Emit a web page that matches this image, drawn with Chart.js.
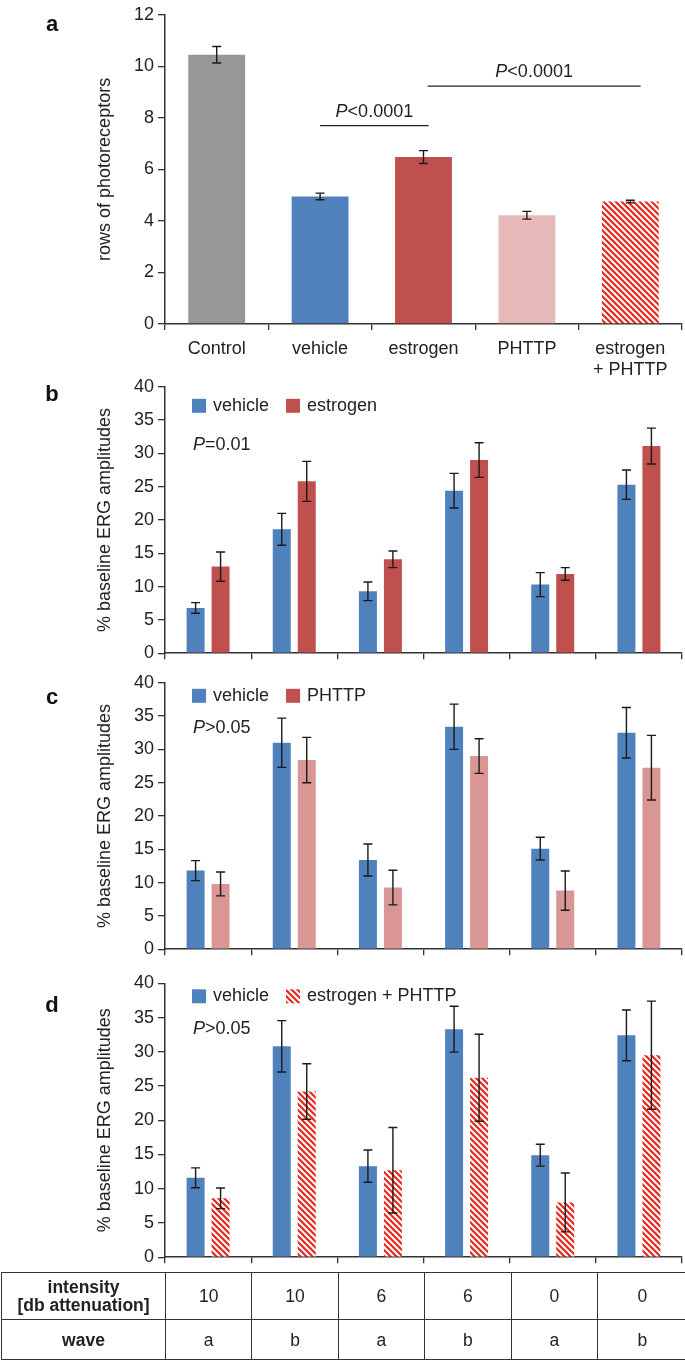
<!DOCTYPE html>
<html>
<head>
<meta charset="utf-8">
<script src="https://cdn.jsdelivr.net/npm/chart.js@4.4.1/dist/chart.umd.min.js"></script>
<style>
    body { margin: 0; background: #fff; width: 685px; height: 1361px; position: relative; overflow: hidden;
           font-family: "Liberation Sans", Arial, sans-serif; color: #222; }
    canvas { position: absolute; left: 0; }
    #params { position: absolute; left: 1px; top: 1272px; width: 686px; border-collapse: collapse; table-layout: fixed; }
    #params td { border: 1.5px solid #333; text-align: center; font-size: 17.5px; line-height: 18px; padding: 0; }
    #params td.head { font-weight: bold; }
</style>
</head>
<body>
<canvas id="chart-a" width="685" height="380" style="top:0px"></canvas>
<canvas id="chart-b" width="685" height="296" style="top:372px"></canvas>
<canvas id="chart-c" width="685" height="296" style="top:668px"></canvas>
<canvas id="chart-d" width="685" height="304" style="top:968px"></canvas>
<table id="params"></table>
<script>
// panel a
const groupsA = ['Control', 'vehicle', 'estrogen', 'PHTTP', ['estrogen', '+ PHTTP']];
const rowsA = [10.45, 4.95, 6.48, 4.22, 4.75];
const rowsErrA = [0.32, 0.13, 0.25, 0.15, 0.05];

// ERG panels b-d (six intensity/wave conditions)
const conditions = ['10 a', '10 b', '6 a', '6 b', '0 a', '0 b'];
const vehicleB = [6.8, 18.6, 9.3, 24.4, 10.3, 25.3];
const vehicleErrB = [0.8, 2.4, 1.4, 2.6, 1.8, 2.2];
const estrogenB = [13.0, 25.8, 14.1, 29.0, 11.9, 31.1];
const estrogenErrB = [2.2, 3.0, 1.25, 2.6, 0.95, 2.7];

const vehicleC = [11.8, 31.0, 13.4, 33.4, 15.1, 32.5];
const vehicleErrC = [1.5, 3.7, 2.4, 3.4, 1.7, 3.8];
const phttpC = [9.8, 28.4, 9.25, 29.0, 8.8, 27.25];
const phttpErrC = [1.8, 3.4, 2.6, 2.6, 2.95, 4.85];

const vehicleD = [11.6, 30.8, 13.3, 33.3, 14.9, 32.4];
const vehicleErrD = [1.45, 3.75, 2.35, 3.35, 1.6, 3.7];
const comboD = [8.6, 24.2, 12.7, 26.2, 8.0, 29.5];
const comboErrD = [1.5, 4.05, 6.25, 6.35, 4.3, 7.9];

const intensity = ['10', '10', '6', '6', '0', '0'];
const wave = ['a', 'b', 'a', 'b', 'a', 'b'];

const GREY = '#979797';
const BLUE = '#4f81bd';
const RED = '#c0504d';
const PINK_A = '#e6b9b8';
const PINK_C = '#d99694';

Chart.defaults.font.family = '"Liberation Sans", Arial, sans-serif';
Chart.defaults.color = '#222';

function hatch() {
    const c = document.createElement('canvas');
    c.width = 6;
    c.height = 6;
    const g = c.getContext('2d');
    g.fillStyle = '#fff';
    g.fillRect(0, 0, 6, 6);
    g.strokeStyle = '#e8261c';
    g.lineWidth = 2.2;
    g.beginPath();
    g.moveTo(-1, -1); g.lineTo(7, 7);
    g.moveTo(-1, 5); g.lineTo(1, 7);
    g.moveTo(5, -1); g.lineTo(7, 1);
    g.stroke();
    return g.createPattern(c, 'repeat');
}
const HATCH = hatch();

function drawP(ctx, x, y, rest, align) {
    ctx.font = 'italic 18px "Liberation Sans", Arial, sans-serif';
    const wp = ctx.measureText('P').width;
    ctx.font = '18px "Liberation Sans", Arial, sans-serif';
    const wr = ctx.measureText(rest).width;
    let x0 = align === 'center' ? x - (wp + wr) / 2 : x;
    ctx.textAlign = 'left';
    ctx.textBaseline = 'middle';
    ctx.fillStyle = '#222';
    ctx.font = 'italic 18px "Liberation Sans", Arial, sans-serif';
    ctx.fillText('P', x0, y);
    ctx.font = '18px "Liberation Sans", Arial, sans-serif';
    ctx.fillText(rest, x0 + wp, y);
}

const extras = {
    id: 'extras',
    afterDatasetsDraw(chart, args, opts) {
        const ctx = chart.ctx;
        const xs = chart.scales.x;
        const ys = chart.scales.y;
        const top = chart.chartArea.top;
        ctx.save();

        // error bars
        chart.data.datasets.forEach((ds, i) => {
            const meta = chart.getDatasetMeta(i);
            meta.data.forEach((bar, j) => {
                const v = ds.data[j];
                const e = ds.errors[j];
                const y1 = ys.getPixelForValue(v + e);
                const y2 = ys.getPixelForValue(v - e);
                ctx.strokeStyle = '#1a1a1a';
                ctx.lineWidth = 1.4;
                ctx.beginPath();
                ctx.moveTo(bar.x, y1); ctx.lineTo(bar.x, y2);
                ctx.moveTo(bar.x - opts.cap, y1); ctx.lineTo(bar.x + opts.cap, y1);
                ctx.moveTo(bar.x - opts.cap, y2); ctx.lineTo(bar.x + opts.cap, y2);
                ctx.stroke();
            });
        });

        // panel letter
        ctx.fillStyle = '#111';
        ctx.font = 'bold 22px "Liberation Sans", Arial, sans-serif';
        ctx.textAlign = 'center';
        ctx.textBaseline = 'middle';
        ctx.fillText(opts.letter, 52, opts.letterY);

        // significance bars
        (opts.sigs || []).forEach((s) => {
            const x1 = xs.getPixelForValue(s.from);
            const x2 = xs.getPixelForValue(s.to);
            const yy = ys.getPixelForValue(s.at);
            ctx.strokeStyle = '#222';
            ctx.lineWidth = 1.3;
            ctx.beginPath();
            ctx.moveTo(x1, yy); ctx.lineTo(x2, yy);
            ctx.stroke();
            drawP(ctx, (x1 + x2) / 2, yy - 14, s.text, 'center');
        });

        // legend
        if (opts.legend) {
            let lx = 192;
            const ly = top + opts.legendDy;
            opts.legend.forEach((item) => {
                ctx.fillStyle = item.color;
                ctx.fillRect(lx, ly - 7, 14, 14);
                lx += 21;
                ctx.fillStyle = '#222';
                ctx.font = '18px "Liberation Sans", Arial, sans-serif';
                ctx.textAlign = 'left';
                ctx.textBaseline = 'middle';
                ctx.fillText(item.text, lx, ly);
                lx += ctx.measureText(item.text).width + 17;
            });
        }

        if (opts.pText) {
            drawP(ctx, 193, top + opts.pDy, opts.pText, 'left');
        }
        ctx.restore();
    },
};

function makeChart(id, cfg) {
    return new Chart(document.getElementById(id), {
        type: 'bar',
        data: { labels: cfg.labels, datasets: cfg.datasets },
        options: {
            responsive: false,
            animation: false,
            layout: { padding: { top: cfg.padTop, left: 94, right: 3, bottom: 0 } },
            datasets: {
                bar: {
                    categoryPercentage: cfg.catPct,
                    barPercentage: cfg.barPct,
                },
            },
            scales: {
                x: {
                    grid: { offset: true, drawOnChartArea: false, drawTicks: true, tickLength: 6, color: '#333', lineWidth: 1.3 },
                    border: { color: '#333', width: 1.5 },
                    ticks: {
                        display: cfg.showX,
                        font: { size: 18 },
                        padding: 8,
                        maxRotation: 0,
                        autoSkip: false,
                    },
                    afterFit: (s) => { s.height = cfg.xHeight; },
                },
                y: {
                    min: 0,
                    max: cfg.yMax,
                    grid: { drawOnChartArea: false, drawTicks: true, tickLength: 7, color: '#333', lineWidth: 1.3 },
                    border: { color: '#333', width: 1.5 },
                    ticks: { stepSize: cfg.yStep, font: { size: 18 }, padding: 4 },
                    title: {
                        display: true,
                        text: cfg.yTitle,
                        font: { size: 18 },
                        padding: 0,
                    },
                    afterFit: (s) => { s.width = 71; },
                },
            },
            plugins: {
                legend: { display: false },
                tooltip: { enabled: false },
                extras: cfg.extras,
            },
        },
        plugins: [extras],
    });
}

makeChart('chart-a', {
    labels: groupsA,
    datasets: [{
        data: rowsA,
        errors: rowsErrA,
        backgroundColor: [GREY, BLUE, RED, PINK_A, HATCH],
    }],
    padTop: 12,
    xHeight: 56,
    catPct: 1,
    barPct: 0.55,
    showX: true,
    yMax: 12,
    yStep: 2,
    yTitle: 'rows of photoreceptors',
    extras: {
        cap: 4.5,
        letter: 'a',
        letterY: 25,
        sigs: [
            { from: 1, to: 2.05, at: 7.7, text: '<0.0001' },
            { from: 2.04, to: 4.1, at: 9.23, text: '<0.0001' },
        ],
    },
});

const ergBase = {
    labels: conditions,
    catPct: 0.58,
    barPct: 0.72,
    showX: false,
    yMax: 40,
    yStep: 5,
    yTitle: '% baseline ERG amplitudes',
};

makeChart('chart-b', Object.assign({}, ergBase, {
    datasets: [
        { data: vehicleB, errors: vehicleErrB, backgroundColor: BLUE },
        { data: estrogenB, errors: estrogenErrB, backgroundColor: RED },
    ],
    padTop: 12.7,
    xHeight: 14.7,
    extras: {
        cap: 4.5, letter: 'b', letterY: 23,
        legend: [{ color: BLUE, text: 'vehicle' }, { color: RED, text: 'estrogen' }],
        legendDy: 19, pText: '=0.01', pDy: 58,
    },
}));

makeChart('chart-c', Object.assign({}, ergBase, {
    datasets: [
        { data: vehicleC, errors: vehicleErrC, backgroundColor: BLUE },
        { data: phttpC, errors: phttpErrC, backgroundColor: PINK_C },
    ],
    padTop: 12,
    xHeight: 10,
    extras: {
        cap: 4.5, letter: 'c', letterY: 30,
        legend: [{ color: BLUE, text: 'vehicle' }, { color: RED, text: 'PHTTP' }],
        legendDy: 13, pText: '>0.05', pDy: 45,
    },
}));

makeChart('chart-d', Object.assign({}, ergBase, {
    datasets: [
        { data: vehicleD, errors: vehicleErrD, backgroundColor: BLUE },
        { data: comboD, errors: comboErrD, backgroundColor: HATCH },
    ],
    padTop: 15.3,
    xHeight: 9.3,
    extras: {
        cap: 4.5, letter: 'd', letterY: 38,
        legend: [{ color: BLUE, text: 'vehicle' }, { color: HATCH, text: 'estrogen + PHTTP' }],
        legendDy: 13, pText: '>0.05', pDy: 46,
    },
}));

// intensity / wave table under panel d
const table = document.getElementById('params');
const colGroup = document.createElement('colgroup');
colGroup.innerHTML = '<col style="width:164px">'
    + intensity.map((v, i) => '<col style="width:' + (i < intensity.length - 1 ? 86.4 : 90) + 'px">').join('');
table.appendChild(colGroup);
const rowDefs = [
    { head: 'intensity<br>[db attenuation]', cells: intensity, height: 47 },
    { head: 'wave', cells: wave, height: 40 },
];
rowDefs.forEach((r) => {
    const tr = document.createElement('tr');
    tr.style.height = r.height + 'px';
    tr.innerHTML = '<td class="head">' + r.head + '</td>' + r.cells.map((c) => '<td>' + c + '</td>').join('');
    table.appendChild(tr);
});
</script>
</body>
</html>
